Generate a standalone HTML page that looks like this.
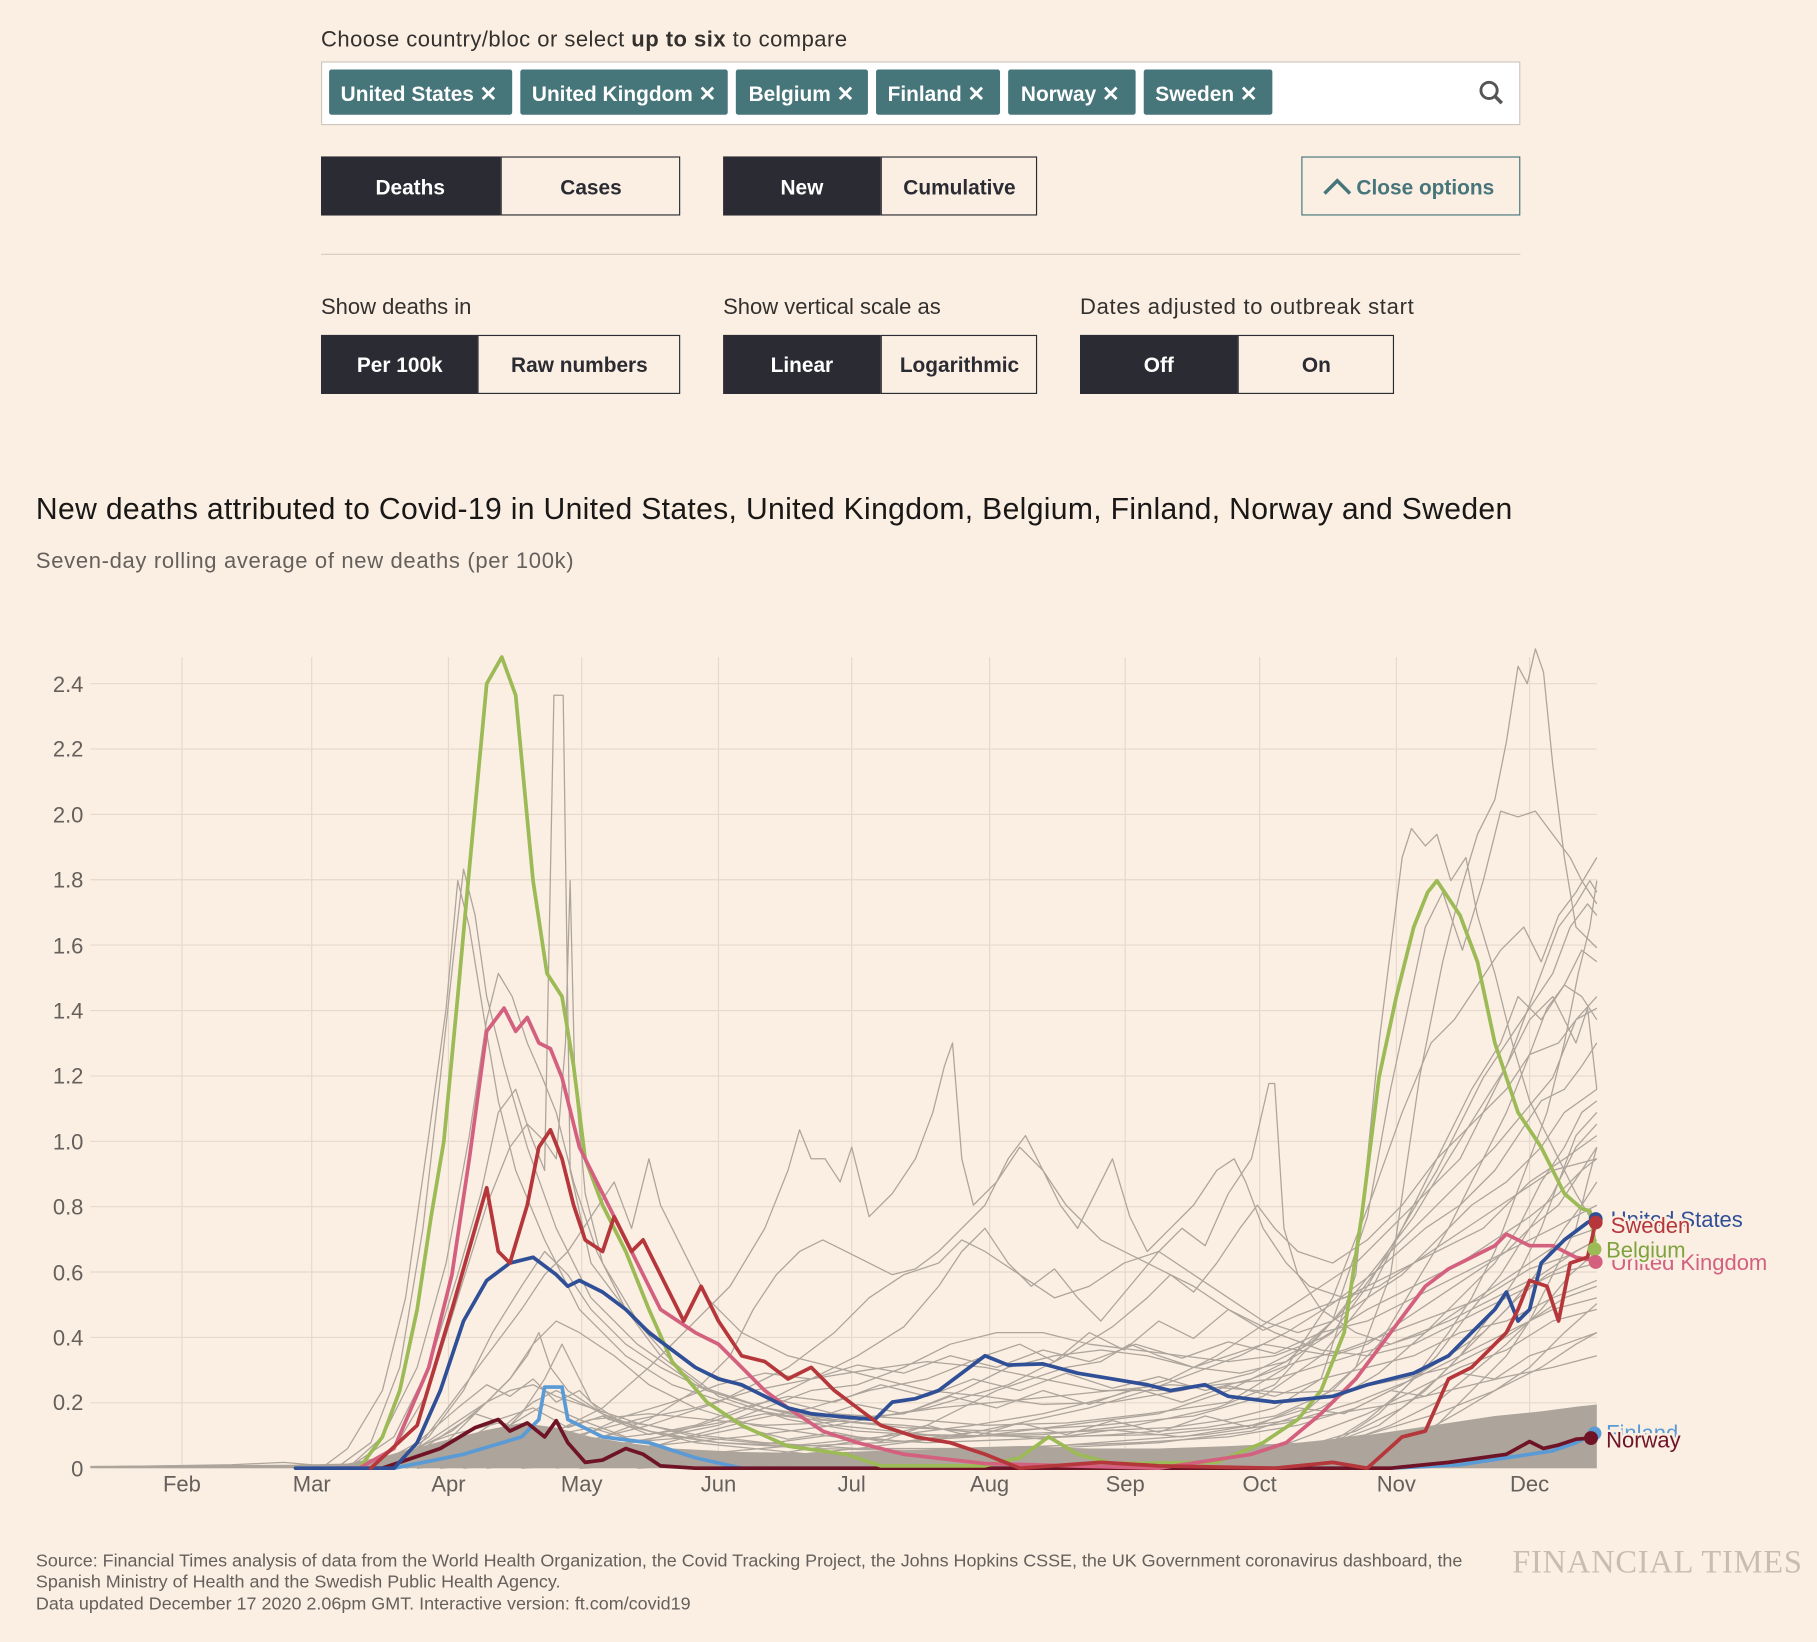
<!DOCTYPE html>
<html><head><meta charset="utf-8"><style>
html,body{margin:0;padding:0;background:#fbefe3;}
svg{display:block;font-family:"Liberation Sans",sans-serif;}
</style></head><body>
<svg width="1817" height="1642" viewBox="0 0 1568 1417" xmlns="http://www.w3.org/2000/svg">
<rect width="1568" height="1417" fill="#fbefe3"/>
<text x="277" y="40" font-size="19" fill="#33302e" textLength="454">Choose country/bloc or select <tspan font-weight="bold">up to six</tspan> to compare</text>
<rect x="277.5" y="53.5" width="1034" height="54" fill="#fff" stroke="#cfc6bd"/>
<g fill="#46757a">
<rect x="284" y="60" width="158" height="39" rx="2"/><rect x="449" y="60" width="179" height="39" rx="2"/>
<rect x="635" y="60" width="114" height="39" rx="2"/><rect x="756" y="60" width="107" height="39" rx="2"/>
<rect x="870" y="60" width="110" height="39" rx="2"/><rect x="987" y="60" width="111" height="39" rx="2"/>
</g>
<g fill="#fff" font-size="18" font-weight="bold">
<text x="294" y="87">United States ✕</text><text x="459" y="87">United Kingdom ✕</text>
<text x="646" y="87">Belgium ✕</text><text x="766" y="87">Finland ✕</text>
<text x="881" y="87">Norway ✕</text><text x="997" y="87">Sweden ✕</text>
</g>
<circle cx="1285" cy="78" r="7" fill="none" stroke="#555" stroke-width="2.5"/><line x1="1290" y1="83" x2="1296" y2="89" stroke="#555" stroke-width="3"/>
<g font-size="18" font-weight="bold" text-anchor="middle">
<rect x="277" y="135" width="155" height="51" fill="#2b2c33"/><text x="354" y="168" fill="#fff">Deaths</text>
<rect x="432.5" y="135.5" width="154" height="50" fill="none" stroke="#2b2c33"/><text x="510" y="168" fill="#2b2c33">Cases</text>
<rect x="624" y="135" width="136" height="51" fill="#2b2c33"/><text x="692" y="168" fill="#fff">New</text>
<rect x="760.5" y="135.5" width="134" height="50" fill="none" stroke="#2b2c33"/><text x="828" y="168" fill="#2b2c33">Cumulative</text>
<rect x="1123.5" y="135.5" width="188" height="50" fill="none" stroke="#46757a"/><text x="1230" y="168" fill="#46757a">Close options</text>
<rect x="277" y="289" width="135" height="51" fill="#2b2c33"/><text x="345" y="321" fill="#fff">Per 100k</text>
<rect x="412.5" y="289.5" width="174" height="50" fill="none" stroke="#2b2c33"/><text x="500" y="321" fill="#2b2c33">Raw numbers</text>
<rect x="624" y="289" width="136" height="51" fill="#2b2c33"/><text x="692" y="321" fill="#fff">Linear</text>
<rect x="760.5" y="289.5" width="134" height="50" fill="none" stroke="#2b2c33"/><text x="828" y="321" fill="#2b2c33">Logarithmic</text>
<rect x="932" y="289" width="136" height="51" fill="#2b2c33"/><text x="1000" y="321" fill="#fff">Off</text>
<rect x="1068.5" y="289.5" width="134" height="50" fill="none" stroke="#2b2c33"/><text x="1136" y="321" fill="#2b2c33">On</text>
</g>
<polyline points="1143,167 1154,156 1165,167" fill="none" stroke="#46757a" stroke-width="3"/>
<line x1="277" y1="219.5" x2="1312" y2="219.5" stroke="#d6cabd"/>
<g font-size="19" fill="#33302e"><text x="277" y="271">Show deaths in</text><text x="624" y="271">Show vertical scale as</text><text x="932" y="271" textLength="288">Dates adjusted to outbreak start</text></g>
<text x="31" y="448" font-size="26" fill="#1a1817" textLength="1274">New deaths attributed to Covid-19 in United States, United Kingdom, Belgium, Finland, Norway and Sweden</text>
<text x="31" y="490" font-size="19" fill="#66605c" textLength="464">Seven-day rolling average of new deaths (per 100k)</text>
<g stroke="#e6d8cb" stroke-width="1">
<line x1="78" y1="1267" x2="1378" y2="1267"/><line x1="78" y1="1210.6" x2="1378" y2="1210.6"/><line x1="78" y1="1154.2" x2="1378" y2="1154.2"/><line x1="78" y1="1097.7" x2="1378" y2="1097.7"/><line x1="78" y1="1041.3" x2="1378" y2="1041.3"/><line x1="78" y1="984.9" x2="1378" y2="984.9"/><line x1="78" y1="928.5" x2="1378" y2="928.5"/><line x1="78" y1="872.1" x2="1378" y2="872.1"/><line x1="78" y1="815.6" x2="1378" y2="815.6"/><line x1="78" y1="759.2" x2="1378" y2="759.2"/><line x1="78" y1="702.8" x2="1378" y2="702.8"/><line x1="78" y1="646.4" x2="1378" y2="646.4"/><line x1="78" y1="590" x2="1378" y2="590"/>
<line x1="157" y1="567" x2="157" y2="1267"/><line x1="269" y1="567" x2="269" y2="1267"/><line x1="387" y1="567" x2="387" y2="1267"/><line x1="502" y1="567" x2="502" y2="1267"/><line x1="620" y1="567" x2="620" y2="1267"/><line x1="735" y1="567" x2="735" y2="1267"/><line x1="854" y1="567" x2="854" y2="1267"/><line x1="971" y1="567" x2="971" y2="1267"/><line x1="1087" y1="567" x2="1087" y2="1267"/><line x1="1205" y1="567" x2="1205" y2="1267"/><line x1="1320" y1="567" x2="1320" y2="1267"/>
</g>
<g font-size="19" fill="#66605c" text-anchor="end">
<text x="72" y="1274">0</text><text x="72" y="1217">0.2</text><text x="72" y="1161">0.4</text><text x="72" y="1105">0.6</text><text x="72" y="1048">0.8</text><text x="72" y="992">1.0</text><text x="72" y="935">1.2</text><text x="72" y="879">1.4</text><text x="72" y="823">1.6</text><text x="72" y="766">1.8</text><text x="72" y="710">2.0</text><text x="72" y="653">2.2</text><text x="72" y="597">2.4</text>
</g>
<g font-size="19" fill="#66605c" text-anchor="middle">
<text x="157" y="1287">Feb</text><text x="269" y="1287">Mar</text><text x="387" y="1287">Apr</text><text x="502" y="1287">May</text><text x="620" y="1287">Jun</text><text x="735" y="1287">Jul</text><text x="854" y="1287">Aug</text><text x="971" y="1287">Sep</text><text x="1087" y="1287">Oct</text><text x="1205" y="1287">Nov</text><text x="1320" y="1287">Dec</text>
</g>
<polygon fill="#ada49b" points="78,1267 78,1265 250,1264 300,1263 340,1255 380,1244 420,1234 450,1228 480,1232 510,1240 540,1245 580,1250 640,1253 700,1254 760,1252 820,1250 880,1248 940,1250 1000,1250 1060,1248 1120,1245 1170,1240 1210,1234 1250,1228 1290,1222 1330,1218 1360,1214 1378,1212 1378,1267"/>
<g fill="none" stroke="#ada49b" stroke-width="1.1" stroke-linejoin="round">
<polyline points="78,1266 200,1264 245,1262 280,1265 300,1250 330,1200 350,1120 370,980 385,870 395,760 405,800 418,880 430,950 445,1010 470,1070 500,1130 540,1170 580,1195 640,1215 700,1225 780,1230 860,1238 940,1235 1010,1232 1060,1225 1100,1215 1140,1190 1170,1100 1190,900 1210,740 1218,715 1230,730 1240,720 1252,760 1265,740 1275,790 1290,840 1305,900 1320,950 1340,990 1360,1030 1378,1060"/>
<polyline points="290,1267 320,1245 345,1180 365,1060 380,930 392,820 400,750 410,790 420,860 435,920 455,990 480,1060 510,1120 550,1160 600,1195 660,1215 720,1230 800,1238 900,1240 1000,1238 1080,1230 1130,1215 1170,1180 1200,1100 1225,930 1245,830 1260,770 1275,720 1290,690 1300,640 1310,575 1318,590 1325,560 1332,580 1340,660 1350,740 1360,800 1370,810 1378,818"/>
<polyline points="300,1267 330,1240 360,1180 385,1090 405,980 420,880 430,840 442,860 455,900 468,930 480,960 495,1020 515,1080 540,1130 580,1175 620,1205 680,1225 740,1235 820,1240 900,1238 980,1230 1050,1215 1100,1195 1150,1140 1180,1050 1200,940 1215,870 1230,800 1245,770 1262,820 1280,760 1295,700 1310,705 1325,700 1340,720 1355,740 1365,760 1378,780"/>
<polyline points="310,1267 340,1250 370,1200 395,1120 420,1040 440,990 455,970 470,985 480,1000 488,900 492,760 496,930 505,1030 520,1090 550,1140 600,1180 660,1205 720,1220 790,1225 850,1230 920,1228 990,1220 1060,1210 1110,1180 1150,1120 1185,1030 1210,960 1235,900 1255,880 1275,850 1295,820 1315,800 1330,830 1345,790 1360,770 1378,740"/>
<polyline points="300,1267 340,1240 370,1180 395,1100 415,1030 430,960 445,940 458,980 470,1010 478,600 486,600 492,1010 510,1090 540,1130 570,1170 610,1200 660,1215 710,1225 780,1232 860,1235 950,1230 1030,1222 1090,1205 1140,1170 1180,1120 1210,1060 1240,1000 1270,940 1295,900 1310,860 1330,880 1350,850 1365,820 1378,830"/>
<polyline points="330,1267 360,1250 390,1210 420,1170 450,1130 470,1100 490,1080 510,1050 530,1020 545,1060 560,1000 570,1040 590,1080 610,1120 640,1150 680,1170 720,1180 760,1190 800,1200 850,1205 900,1212 960,1210 1020,1200 1080,1185 1130,1160 1170,1120 1200,1080 1230,1050 1260,1020 1290,990 1315,960 1340,930 1360,880 1378,860"/>
<polyline points="380,1267 420,1255 470,1240 520,1215 560,1180 600,1140 630,1110 660,1060 680,1010 690,975 700,1000 712,1000 725,1020 735,990 750,1050 770,1030 790,1000 805,960 815,920 822,900 830,1000 840,1040 860,1020 880,990 900,1010 920,1040 950,1070 990,1090 1030,1110 1060,1130 1100,1150 1140,1165 1180,1170 1220,1160 1260,1140 1300,1120 1340,1100 1378,1090"/>
<polyline points="400,1267 440,1258 480,1250 520,1240 560,1225 600,1200 630,1170 650,1130 670,1100 690,1080 710,1070 730,1080 750,1090 770,1100 790,1095 810,1080 830,1060 850,1040 870,1000 885,980 900,1010 915,1040 930,1060 945,1030 960,1000 975,1050 990,1080 1010,1060 1030,1040 1050,1010 1065,1000 1075,1020 1090,1060 1110,1090 1130,1110 1160,1120 1190,1110 1220,1090 1250,1070 1280,1050 1310,1030 1340,1010 1378,1000"/>
<polyline points="420,1267 470,1260 520,1250 570,1240 620,1225 660,1210 700,1190 740,1170 780,1145 810,1110 830,1080 850,1060 870,1090 890,1110 910,1095 930,1120 950,1140 975,1110 1000,1080 1020,1060 1040,1075 1060,1030 1080,1000 1095,935 1100,935 1108,1060 1120,1100 1140,1130 1170,1150 1200,1160 1230,1150 1260,1130 1290,1110 1320,1090 1350,1070 1378,1060"/>
<polyline points="330,1267 370,1240 400,1200 425,1150 450,1110 470,1080 490,1100 510,1130 540,1160 570,1180 610,1200 660,1215 720,1225 780,1220 830,1200 870,1180 910,1170 950,1165 990,1170 1030,1180 1070,1185 1110,1175 1150,1150 1180,1110 1210,1060 1240,1010 1260,970 1280,930 1300,900 1320,870 1340,840 1355,800 1370,780 1378,790"/>
<polyline points="340,1267 380,1250 410,1220 440,1190 460,1160 480,1140 500,1150 530,1170 560,1195 600,1215 650,1230 720,1240 800,1245 880,1242 960,1238 1040,1232 1100,1222 1150,1200 1190,1160 1220,1110 1250,1060 1280,1000 1300,960 1320,910 1335,870 1350,850 1365,860 1378,880"/>
<polyline points="350,1267 390,1255 430,1235 460,1210 480,1200 500,1210 530,1225 570,1238 620,1245 690,1248 760,1245 840,1240 920,1230 1000,1220 1060,1200 1110,1175 1150,1140 1190,1090 1220,1050 1250,1000 1275,960 1300,920 1320,880 1340,860 1360,900 1370,870 1378,940"/>
<polyline points="360,1267 400,1262 450,1255 500,1245 560,1230 620,1210 680,1180 720,1150 750,1120 780,1100 810,1090 830,1070 850,1080 880,1100 910,1120 940,1110 970,1090 1000,1080 1030,1100 1060,1120 1090,1140 1120,1150 1150,1140 1180,1120 1210,1100 1240,1070 1270,1040 1300,1020 1330,990 1350,960 1378,940"/>
<polyline points="380,1267 430,1262 490,1255 560,1248 640,1240 720,1230 800,1215 870,1195 920,1170 960,1145 990,1120 1010,1100 1030,1115 1050,1090 1070,1060 1085,1040 1100,1060 1120,1080 1150,1090 1180,1070 1210,1040 1240,1000 1270,970 1300,940 1320,910 1345,900 1360,880 1378,870"/>
<polyline points="300,1267 350,1255 390,1235 420,1210 440,1190 455,1170 465,1150 475,1180 490,1200 520,1220 560,1235 620,1245 700,1250 800,1252 900,1250 1000,1245 1080,1235 1140,1215 1190,1185 1230,1150 1260,1120 1290,1090 1310,1060 1330,1020 1350,990 1365,960 1378,950"/>
<polyline points="400,1267 450,1260 510,1250 570,1240 620,1230 660,1215 700,1200 740,1195 780,1180 820,1160 860,1150 900,1150 940,1160 980,1165 1020,1170 1060,1175 1100,1170 1140,1155 1180,1130 1220,1110 1260,1090 1290,1070 1320,1050 1345,1030 1365,1010 1378,1000"/>
<polyline points="450,1267 520,1262 600,1255 680,1248 760,1240 840,1230 900,1220 960,1205 1010,1190 1050,1170 1080,1150 1110,1130 1140,1110 1170,1090 1200,1060 1230,1030 1260,1000 1280,960 1300,920 1315,880 1330,840 1345,800 1360,780 1372,760 1378,770"/>
<polyline points="500,1267 580,1262 660,1258 740,1250 820,1240 880,1228 940,1215 990,1200 1030,1185 1070,1170 1110,1150 1150,1125 1190,1095 1230,1060 1260,1040 1290,1010 1310,980 1330,950 1350,940 1365,920 1378,900"/>
<polyline points="320,1267 360,1250 390,1230 420,1210 440,1200 460,1195 480,1205 510,1215 550,1228 600,1238 660,1245 740,1250 820,1250 900,1248 980,1245 1060,1240 1120,1230 1170,1215 1210,1195 1250,1170 1280,1150 1310,1120 1335,1100 1355,1090 1378,1080"/>
<polyline points="350,1267 400,1258 450,1248 500,1238 550,1225 600,1215 650,1200 700,1190 750,1182 800,1175 850,1180 900,1190 950,1200 1000,1200 1050,1195 1100,1190 1150,1175 1200,1160 1250,1140 1290,1120 1330,1100 1360,1080 1378,1070"/>
<polyline points="550,1267 620,1262 700,1250 760,1240 800,1230 830,1215 860,1200 890,1190 920,1180 950,1175 975,1160 1000,1170 1030,1180 1060,1170 1090,1160 1120,1165 1150,1170 1180,1160 1210,1140 1240,1120 1270,1100 1300,1080 1320,1060 1345,1040 1365,1010 1378,990"/>
<polyline points="360,1267 410,1255 460,1240 510,1225 560,1220 610,1225 660,1230 710,1228 760,1222 810,1215 860,1210 910,1205 960,1200 1010,1195 1060,1198 1110,1202 1160,1200 1210,1190 1250,1180 1290,1160 1320,1140 1350,1120 1378,1110"/>
<polyline points="1080,1267 1120,1255 1160,1240 1190,1220 1220,1190 1250,1150 1270,1120 1290,1080 1305,1040 1320,1000 1335,960 1350,900 1362,840 1372,800 1378,760"/>
<polyline points="1050,1267 1100,1258 1150,1245 1190,1230 1230,1200 1260,1170 1290,1130 1310,1100 1330,1060 1345,1020 1360,980 1378,960"/>
<polyline points="1000,1267 1060,1260 1120,1250 1170,1235 1210,1215 1240,1190 1270,1160 1300,1130 1325,1100 1350,1060 1365,1040 1378,1020"/>
<polyline points="600,1267 700,1262 800,1256 880,1250 960,1244 1040,1238 1110,1228 1170,1210 1220,1190 1260,1170 1300,1150 1340,1130 1378,1120"/>
<polyline points="380,1267 420,1250 450,1220 470,1190 485,1160 495,1180 510,1210 540,1230 600,1245 700,1255 850,1258 1000,1256 1100,1250 1180,1238 1240,1220 1290,1200 1330,1180 1360,1160 1378,1150"/>
<polyline points="320,1267 360,1245 395,1215 420,1195 440,1205 460,1190 480,1210 500,1200 525,1225 560,1230 600,1240 640,1232 680,1242 720,1236 760,1244 800,1230 840,1240 880,1228 920,1238 960,1226 1000,1236 1040,1222 1080,1232 1120,1215 1160,1220 1200,1200 1230,1205 1260,1185 1290,1190 1320,1170 1350,1160 1378,1150"/>
<polyline points="340,1267 380,1240 410,1220 440,1230 470,1212 500,1225 540,1240 580,1235 620,1228 660,1220 700,1225 740,1212 780,1220 820,1205 860,1215 900,1200 940,1212 980,1198 1020,1210 1060,1196 1100,1205 1140,1190 1180,1180 1220,1170 1260,1150 1300,1140 1340,1120 1378,1105"/>
<polyline points="360,1267 400,1245 430,1225 460,1215 490,1232 520,1222 560,1238 600,1230 640,1215 680,1205 720,1210 760,1195 800,1205 840,1190 880,1200 920,1185 960,1198 1000,1188 1040,1200 1080,1190 1120,1175 1160,1165 1200,1150 1240,1135 1280,1120 1320,1095 1350,1085 1378,1070"/>
<polyline points="420,1267 460,1250 500,1240 540,1222 580,1210 620,1195 660,1185 700,1190 740,1178 780,1185 820,1170 860,1180 900,1165 940,1175 980,1160 1020,1172 1060,1158 1100,1168 1140,1150 1180,1140 1220,1120 1260,1100 1300,1080 1340,1060 1378,1040"/>
<polyline points="300,1267 350,1252 390,1238 430,1228 470,1240 510,1232 550,1244 600,1240 660,1246 720,1238 780,1244 840,1236 900,1242 960,1234 1020,1240 1080,1230 1140,1222 1200,1212 1250,1200 1300,1188 1340,1180 1378,1170"/>
<polyline points="480,1267 540,1255 600,1238 650,1225 700,1215 750,1200 800,1190 850,1170 880,1160 910,1175 940,1150 970,1165 1000,1140 1030,1155 1060,1130 1090,1148 1120,1135 1160,1120 1200,1100 1240,1080 1280,1060 1320,1020 1350,1000 1378,980"/>
<polyline points="1100,1267 1140,1250 1180,1225 1210,1200 1240,1170 1270,1130 1295,1100 1320,1060 1340,1030 1360,990 1378,970"/>
<polyline points="1120,1262 1160,1245 1200,1230 1240,1210 1270,1185 1300,1160 1330,1130 1355,1100 1378,1080"/>
<polyline points="1150,1260 1190,1248 1230,1235 1260,1218 1290,1200 1320,1180 1350,1150 1378,1125"/>
<polyline points="1060,1258 1100,1250 1140,1235 1180,1220 1220,1200 1260,1180 1300,1165 1340,1140 1378,1130"/>
<polyline points="1200,1250 1240,1230 1270,1200 1300,1170 1320,1140 1340,1100 1360,1060 1370,1020 1378,990"/>
</g>
<g fill="none" stroke-width="3.2" stroke-linejoin="round" stroke-linecap="round">
<polyline stroke="#5b9bd5" points="340,1267 400,1255 450,1240 465,1225 470,1197 485,1197 490,1225 520,1240 560,1245 600,1258 640,1267 900,1267 1000,1267 1200,1267 1260,1264 1300,1258 1340,1252 1360,1245 1376,1237"/>
<polyline stroke="#6e1426" points="300,1267 330,1267 380,1250 410,1232 430,1225 440,1235 455,1228 470,1240 480,1226 490,1245 505,1262 520,1260 540,1250 555,1255 570,1265 600,1267 1200,1267 1250,1262 1300,1255 1320,1244 1332,1250 1345,1247 1360,1242 1373,1241"/>
<polyline stroke="#9cba56" points="296,1267 310,1267 330,1240 345,1200 360,1130 372,1050 383,985 395,860 405,750 420,590 433,567 445,600 460,760 472,840 485,860 495,920 505,1000 520,1040 540,1080 560,1130 580,1175 610,1210 640,1230 680,1248 730,1255 760,1265 850,1265 880,1258 905,1240 930,1255 960,1263 1050,1262 1090,1245 1120,1225 1140,1200 1160,1150 1175,1050 1190,930 1205,860 1220,800 1232,770 1240,760 1250,775 1260,790 1275,830 1290,900 1310,960 1330,990 1350,1030 1365,1043 1372,1045 1377,1078"/>
<polyline stroke="#d4607f" points="288,1267 310,1267 340,1250 370,1180 390,1100 405,1000 420,890 435,870 445,890 455,878 465,900 475,905 485,930 500,990 515,1020 530,1050 550,1090 570,1130 600,1150 620,1160 640,1180 660,1200 680,1215 710,1235 740,1245 780,1255 850,1263 1000,1267 1080,1255 1110,1245 1140,1220 1170,1190 1200,1150 1230,1110 1250,1095 1270,1085 1290,1075 1300,1065 1320,1075 1340,1075 1360,1085 1377,1088"/>
<polyline stroke="#2f4f97" points="255,1267 285,1267 340,1267 360,1245 380,1200 400,1140 420,1105 440,1090 460,1085 480,1100 490,1110 500,1105 520,1115 540,1130 560,1150 580,1165 600,1180 620,1190 640,1195 660,1205 680,1215 700,1220 720,1222 755,1225 770,1210 790,1207 810,1200 830,1185 850,1170 870,1178 900,1177 930,1185 960,1190 990,1195 1010,1200 1040,1195 1060,1205 1100,1210 1150,1205 1180,1195 1220,1185 1250,1170 1270,1150 1290,1130 1300,1115 1310,1140 1320,1130 1330,1090 1350,1070 1370,1055 1376,1052"/>
<polyline stroke="#b5373b" points="320,1267 360,1230 390,1130 410,1060 420,1025 430,1080 440,1090 455,1040 465,990 475,975 485,1000 495,1040 505,1070 520,1080 530,1050 545,1080 555,1070 570,1100 590,1140 605,1110 620,1140 640,1170 660,1175 680,1190 700,1180 720,1200 740,1215 760,1230 790,1240 820,1245 850,1255 880,1267 950,1262 1000,1265 1100,1267 1150,1262 1180,1267 1210,1240 1230,1235 1250,1190 1270,1180 1290,1160 1300,1150 1310,1130 1320,1105 1335,1110 1345,1140 1355,1090 1370,1085 1377,1055"/>
</g>
<circle cx="1377" cy="1052" r="6" fill="#2f4f97"/><circle cx="1377" cy="1055" r="6" fill="#b5373b"/>
<circle cx="1376" cy="1078" r="6" fill="#9cba56"/><circle cx="1377" cy="1089" r="6" fill="#d4607f"/>
<circle cx="1376" cy="1237" r="6" fill="#5b9bd5"/><circle cx="1373" cy="1241" r="6" fill="#6e1426"/>
<g font-size="19" stroke="#fbefe3" stroke-width="4" paint-order="stroke">
<text x="1390" y="1059" fill="#2f4f97">United States</text>
<text x="1390" y="1064" fill="#b5373b">Sweden</text>
<text x="1390" y="1096" fill="#d4607f">United Kingdom</text>
<text x="1386" y="1085" fill="#7ea33e">Belgium</text>
<text x="1386" y="1243" fill="#5b9bd5">Finland</text>
<text x="1386" y="1249" fill="#6e1426">Norway</text>
</g>
<g font-size="15.5" fill="#66605c">
<text x="31" y="1352" textLength="1231">Source: Financial Times analysis of data from the World Health Organization, the Covid Tracking Project, the Johns Hopkins CSSE, the UK Government coronavirus dashboard, the</text>
<text x="31" y="1370">Spanish Ministry of Health and the Swedish Public Health Agency.</text>
<text x="31" y="1389">Data updated December 17 2020 2.06pm GMT. Interactive version: ft.com/covid19</text>
</g>
<text x="1305" y="1357" font-family="Liberation Serif,serif" font-size="28" fill="#c9bcb0" textLength="250">FINANCIAL TIMES</text>
</svg>
</body></html>
